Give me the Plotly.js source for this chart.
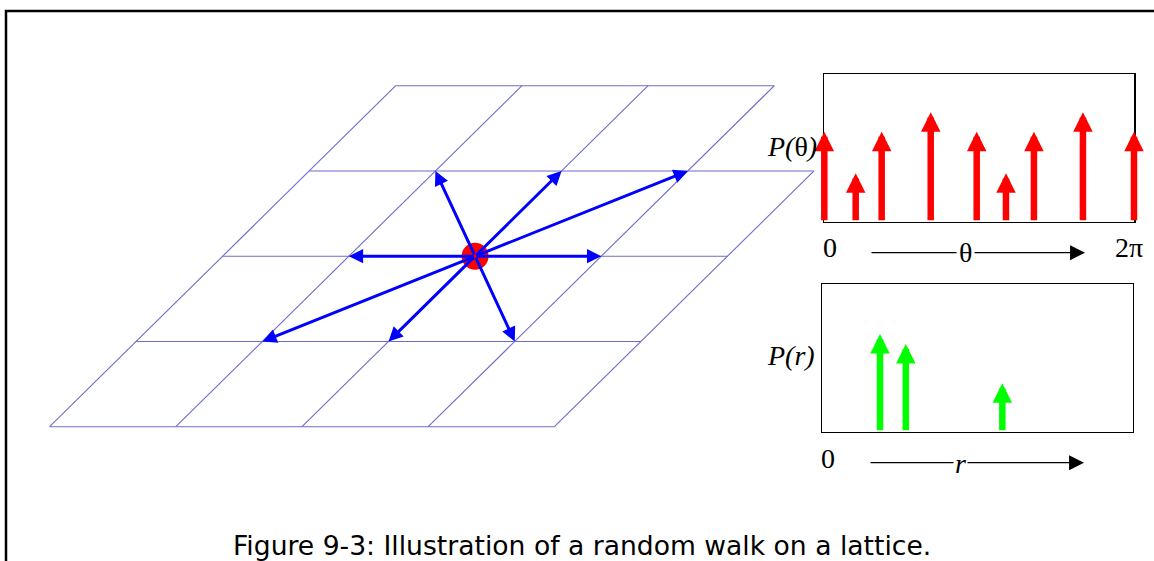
<!DOCTYPE html>
<html><head><meta charset="utf-8">
<script src="https://cdn.plot.ly/plotly-3.0.1.min.js"></script>
<style>html,body{margin:0;padding:0;background:#fff;overflow:hidden;} #chart{width:1154px;height:561px;}</style>
</head><body><div id="chart"></div>
<script>
const W = 1154, H = 561;

// ---- lattice (i = column index, j = row index) ----
const rowJ = [0, 1, 2, 3, 4];
const rowCells = [4, 4, 4, 4, 3];
const colI = [0, 1, 2, 3, 4];
const colCells = [4, 4, 4, 4, 3];
const walkerI = 2, walkerJ = 2;
const stepDi = [1, -1, -1, 0, 1, 1, 0, -1];
const stepDj = [0, 0, 1, 1, 1, -1, -1, -1];

// ---- P(theta) ----
const thetaPos = [0, 0.637, 1.164, 2.159, 3.092, 3.686, 4.253, 5.247, 6.283];
const pTheta   = [0.611, 0.328, 0.611, 0.742, 0.611, 0.328, 0.611, 0.742, 0.611];

// ---- P(r) ----
const rPos = [0.186, 0.269, 0.58];
const pR   = [0.663, 0.595, 0.328];

const SKEW = 0.6857;           // shift per row, in cell widths
function lx(i, j) { return i + SKEW * j; }

// lattice lines
const gx = [], gy = [];
rowJ.forEach((j, k) => { gx.push(lx(0, j), lx(rowCells[k], j), null); gy.push(j, j, null); });
colI.forEach((i, k) => { gx.push(lx(i, 0), lx(i, colCells[k]), null); gy.push(0, colCells[k], null); });

const traces = [
  { type: 'scatter', mode: 'lines', x: gx, y: gy, xaxis: 'x', yaxis: 'y',
    line: { color: 'rgb(108,108,204)', width: 1.1 }, hoverinfo: 'skip', showlegend: false },
  { type: 'scatter', mode: 'markers', x: [lx(walkerI, walkerJ)], y: [walkerJ], xaxis: 'x', yaxis: 'y',
    marker: { color: '#ff0000', size: 27 }, hoverinfo: 'skip', showlegend: false },
  { type: 'scatter', mode: 'markers', x: [0], y: [0], xaxis: 'x2', yaxis: 'y2',
    marker: { opacity: 0 }, hoverinfo: 'skip', showlegend: false },
  { type: 'scatter', mode: 'markers', x: [0], y: [0], xaxis: 'x3', yaxis: 'y3',
    marker: { opacity: 0 }, hoverinfo: 'skip', showlegend: false }
];

const ann = [];
// walk arrows
stepDi.forEach((di, k) => {
  const ti = walkerI + di, tj = walkerJ + stepDj[k];
  ann.push({ xref: 'x', yref: 'y', axref: 'x', ayref: 'y',
    x: lx(ti, tj), y: tj, ax: lx(walkerI, walkerJ), ay: walkerJ,
    text: '', showarrow: true, arrowhead: 2, arrowsize: 0.95, arrowwidth: 3,
    arrowcolor: '#0000ff', standoff: 0 });
});
// P(theta) arrows
thetaPos.forEach((t, k) => {
  ann.push({ xref: 'x2', yref: 'y2', axref: 'x2', ayref: 'y2',
    x: t, y: pTheta[k], ax: t, ay: 0, text: '', showarrow: true,
    arrowhead: 2, arrowsize: 0.6, arrowwidth: 6.5, arrowcolor: '#ff0000', standoff: 0 });
});
// P(r) arrows
rPos.forEach((r, k) => {
  ann.push({ xref: 'x3', yref: 'y3', axref: 'x3', ayref: 'y3',
    x: r, y: pR[k], ax: r, ay: 0, text: '', showarrow: true,
    arrowhead: 2, arrowsize: 0.6, arrowwidth: 6.5, arrowcolor: '#00ff00', standoff: 0 });
});

const serif = 'Liberation Serif, Times New Roman, serif';
function px(x) { return x / W; }
function py(y) { return 1 - y / H; }
function label(text, x, y, xanchor, size) {
  ann.push({ xref: 'paper', yref: 'paper', x: px(x), y: py(y), xanchor: xanchor || 'center',
    yanchor: 'middle', text: text, showarrow: false,
    font: { family: serif, size: size || 28, color: '#000' } });
}
// axis arrows
[[1085, 252.7, 215], [1084, 462.7, 215]].forEach(a => {
  ann.push({ xref: 'paper', yref: 'paper', x: px(a[0]), y: py(a[1]), axref: 'pixel', ayref: 'pixel',
    ax: -a[2], ay: 0, text: '', showarrow: true, arrowhead: 2, arrowsize: 2.3, arrowwidth: 1.3,
    arrowcolor: '#000', standoff: 0 });
});
label('<i>P(</i>θ<i>)</i>', 819, 146, 'right');
label('0', 830, 247);
label('2π', 1129, 247);
ann.push({ xref: 'paper', yref: 'paper', x: px(965), y: py(252), xanchor: 'center', yanchor: 'middle',
  text: 'θ', showarrow: false, bgcolor: '#ffffff', borderpad: 2,
  font: { family: serif, size: 28, color: '#000' } });
label('<i>P(r)</i>', 817, 355, 'right');
label('0', 828, 458);
ann.push({ xref: 'paper', yref: 'paper', x: px(960), y: py(463), xanchor: 'center', yanchor: 'middle',
  text: '<i>r</i>', showarrow: false, bgcolor: '#ffffff', borderpad: 1,
  font: { family: serif, size: 28, color: '#000' } });
// caption
ann.push({ xref: 'paper', yref: 'paper', x: px(581.5), y: py(545), xanchor: 'center', yanchor: 'middle',
  text: 'Figure 9-3: Illustration of a random walk on a lattice.', showarrow: false,
  font: { family: 'DejaVu Sans, sans-serif', size: 26.6, color: '#000' } });

const hidden = { visible: false, fixedrange: true, showgrid: false, zeroline: false };
const boxAxis = { showline: true, mirror: true, linecolor: '#000', linewidth: 1.5,
  showgrid: false, zeroline: false, showticklabels: false, ticks: '', fixedrange: true };

const layout = {
  width: W, height: H, margin: { l: 0, r: 0, t: 0, b: 0 },
  paper_bgcolor: '#ffffff', plot_bgcolor: '#ffffff', showlegend: false,
  xaxis: Object.assign({}, hidden, { domain: [0, 1], range: [-49.6 / 126.2, (W - 49.6) / 126.2], anchor: 'y' }),
  yaxis: Object.assign({}, hidden, { domain: [0, 1], range: [(426.7 - H) / 85.25, 426.7 / 85.25], anchor: 'x' }),
  xaxis2: Object.assign({}, boxAxis, { domain: [824.3 / W, 1134 / W], range: [0, 2 * Math.PI], anchor: 'y2' }),
  yaxis2: Object.assign({}, boxAxis, { domain: [1 - 221.7 / H, 1 - 74.3 / H], range: [0, 1], anchor: 'x2' }),
  xaxis3: Object.assign({}, boxAxis, { domain: [822.3 / W, 1132.7 / W], range: [0, 1], anchor: 'y3' }),
  yaxis3: Object.assign({}, boxAxis, { domain: [1 - 431.7 / H, 1 - 284.3 / H], range: [0, 1], anchor: 'x3' }),
  annotations: ann,
  shapes: [{ type: 'rect', xref: 'paper', yref: 'paper', x0: px(6), x1: 1.02, y0: -0.02, y1: py(11),
    line: { color: '#000', width: 2.5 }, fillcolor: 'rgba(0,0,0,0)' }]
};

Plotly.newPlot('chart', traces, layout, { displayModeBar: false, staticPlot: true });
</script></body></html>
